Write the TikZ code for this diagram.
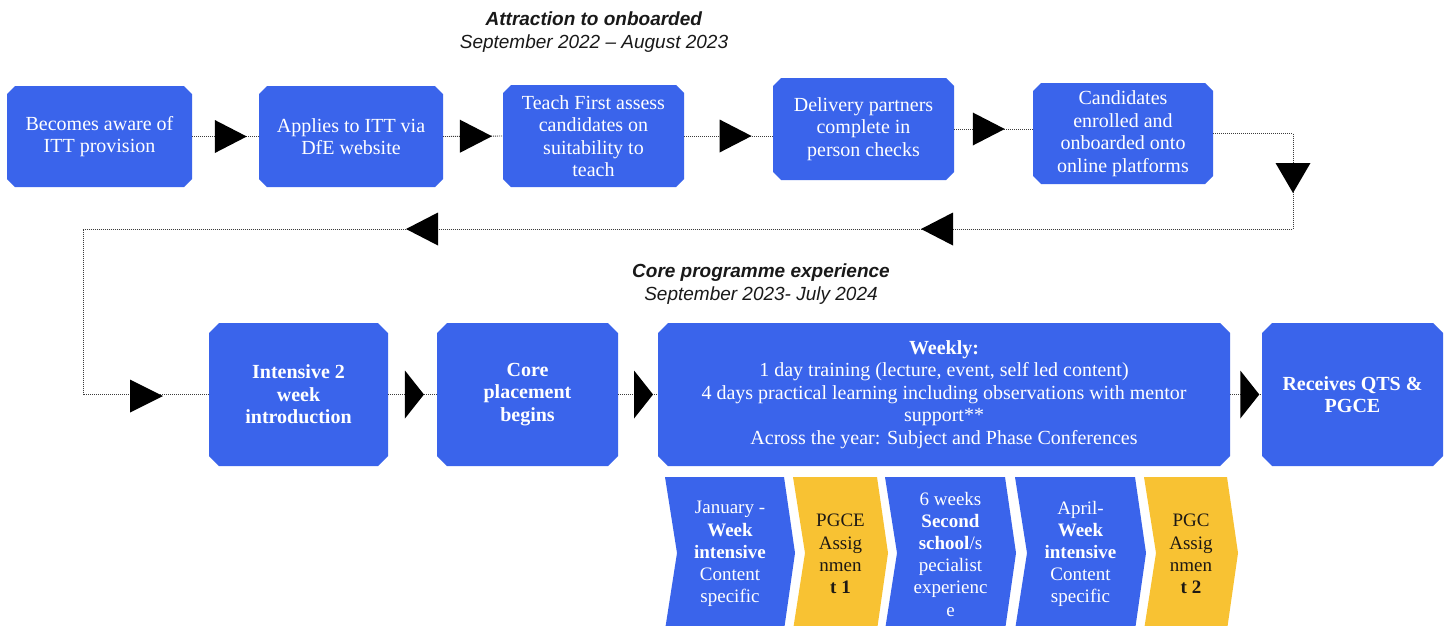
\documentclass[tikz,border=0pt]{standalone}
\usepackage{fontspec}
\setmainfont{Liberation Serif}
\newfontfamily\titlefont{Liberation Sans}
\usetikzlibrary{calc}
\definecolor{boxblue}{RGB}{58,100,235}
\definecolor{chyellow}{RGB}{248,194,51}
\definecolor{dotgray}{RGB}{60,60,60}
\definecolor{darktext}{RGB}{30,25,20}
\tikzset{
  boxtext/.style={text=white, align=center, inner sep=0pt, font=\fontsize{20}{22.5}\selectfont},
  boldtext/.style={boxtext, font=\fontsize{20}{22.5}\selectfont\bfseries},
  chevtext/.style={align=center, inner sep=0pt, font=\fontsize{19}{22.2}\selectfont},
  conn/.style={draw=dotgray, line width=0.9pt, dash pattern=on 1pt off 1pt},
  titletext/.style={align=center, inner sep=0pt, text=black!90, font=\titlefont\fontsize{19}{23}\selectfont},
  pics/rtri/.style 2 args={code={\fill[black] (-#1/2,-#2/2) -- (#1/2,0) -- (-#1/2,#2/2) -- cycle;}},
}
% style, name, x1, y1, x2, y2, chamfer, text
\newcommand\chbox[8]{%
  \fill[boxblue] (#3+#7,#4) -- (#5-#7,#4) -- (#5,#4+#7) -- (#5,#6-#7) -- (#5-#7,#6) -- (#3+#7,#6) -- (#3,#6-#7) -- (#3,#4+#7) -- cycle;
  \node[#1, minimum width=#5-#3, minimum height=#6-#4] (#2) at ({(#3+#5)/2},{(#4+#6)/2}) {#8};}
% name, left x, right point x, colour, text colour, text
\newcommand\chev[6]{%
  \fill[#4] (#2,477) -- (#3-11,477) -- (#3,553) -- (#3-11,630) -- (#2,630) -- (#2+12,553) -- cycle;
  \node[chevtext, text=#5] (#1) at ({(#2+#3)/2},554) {#6};}
\begin{document}
\begin{tikzpicture}[x=1pt, y=-1pt]
\useasboundingbox (0,0) rectangle (1449,625);
\fill[white] (0,0) rectangle (1449,625);
\clip (0,0) rectangle (1449,625);

% titles
\node[titletext] (t1) at (594,32.5) {\textbf{\textit{Attraction to onboarded}}\\ \textit{September 2022 – August 2023}};
\node[titletext] (t2) at (761,284.5) {\textbf{\textit{Core programme experience}}\\ \textit{September 2023- July 2024}};

% top row
\chbox{boxtext}{b1}{7}{86}{192}{187}{8}{Becomes aware of\\ ITT provision}
\chbox{boxtext}{b2}{259}{86}{443}{187}{8}{Applies to ITT via\\ DfE website}
\chbox{boxtext}{b3}{503}{85}{684}{187}{8}{Teach First assess\\ candidates on\\ suitability to\\ teach}
\chbox{boxtext}{b4}{773}{78}{954}{180}{8}{Delivery partners\\ complete in\\ person checks}
\chbox{boxtext}{b5}{1033}{83}{1213}{184}{8}{Candidates\\ enrolled and\\ onboarded onto\\ online platforms}

% bottom row
\chbox{boldtext}{i1}{209}{323}{388}{466}{10}{Intensive 2\\ week\\ introduction}
\chbox{boldtext}{i2}{437}{323}{618}{466}{10}{Core\\ placement\\ begins}
\chbox{boxtext}{i3}{658}{323}{1230}{466}{10}{\textbf{Weekly:}\\ 1 day training (lecture, event, self led content)\\ 4 days practical learning including observations with mentor\\ support**\\ Across the year: Subject and Phase Conferences}
\chbox{boldtext}{i4}{1262}{323}{1443}{466}{10}{Receives QTS \&\\ PGCE}

% chevrons
\chev{c1}{665}{795}{boxblue}{white}{January -\\ \textbf{Week}\\ \textbf{intensive}\\ Content\\ specific}
\chev{c2}{793}{888}{chyellow}{darktext}{PGCE\\ Assig\\ nmen\\ \textbf{t 1}}
\chev{c3}{885}{1016}{boxblue}{white}{6 weeks\\ \textbf{Second}\\ \textbf{school}/s\\ pecialist\\ experienc\\ e}
\chev{c4}{1015}{1146}{boxblue}{white}{April-\\ \textbf{Week}\\ \textbf{intensive}\\ Content\\ specific}
\chev{c5}{1144}{1238}{chyellow}{darktext}{PGC\\ Assig\\ nmen\\ \textbf{t 2}}

% connectors
\draw[conn] (b1.east) -- coordinate[pos=0.58] (a1) (b2.west);
\draw[conn] (b2.east) -- coordinate[pos=0.55] (a2) (b3.west);
\draw[conn] (b3.east) -- coordinate[pos=0.58] (a3) (b3.east -| b4.west);
\draw[conn] (b4.east) -- coordinate[pos=0.44] (a4) (b4.east -| b5.west);
\coordinate (r1) at (1293,229);
\coordinate (r2) at (83,229);
\draw[conn] (b5.east) -| (r1) -- (r2) |- (i1.west);
\draw[conn] (i1.east) -- coordinate[pos=0.54] (a5) (i2.west);
\draw[conn] (i2.east) -- coordinate[pos=0.64] (a6) (i3.west);
\draw[conn] (i3.east) -- coordinate[pos=0.62] (a7) (i4.west);

% arrowheads
\pic at (a1) {rtri={32}{33}};
\pic at (a2) {rtri={32}{33}};
\pic at (a3) {rtri={32}{33}};
\pic at (a4) {rtri={32}{33}};
\pic[rotate=-90] at (1293,178) {rtri={30}{35}};
\pic[rotate=180] at (937,229) {rtri={32}{33}};
\pic[rotate=180] at (422,229) {rtri={32}{33}};
\pic at (146.5,396) {rtri={33}{33}};
\pic at (a5) {rtri={19}{48}};
\pic at (a6) {rtri={19}{48}};
\pic at (a7) {rtri={19}{48}};
\end{tikzpicture}
\end{document}
